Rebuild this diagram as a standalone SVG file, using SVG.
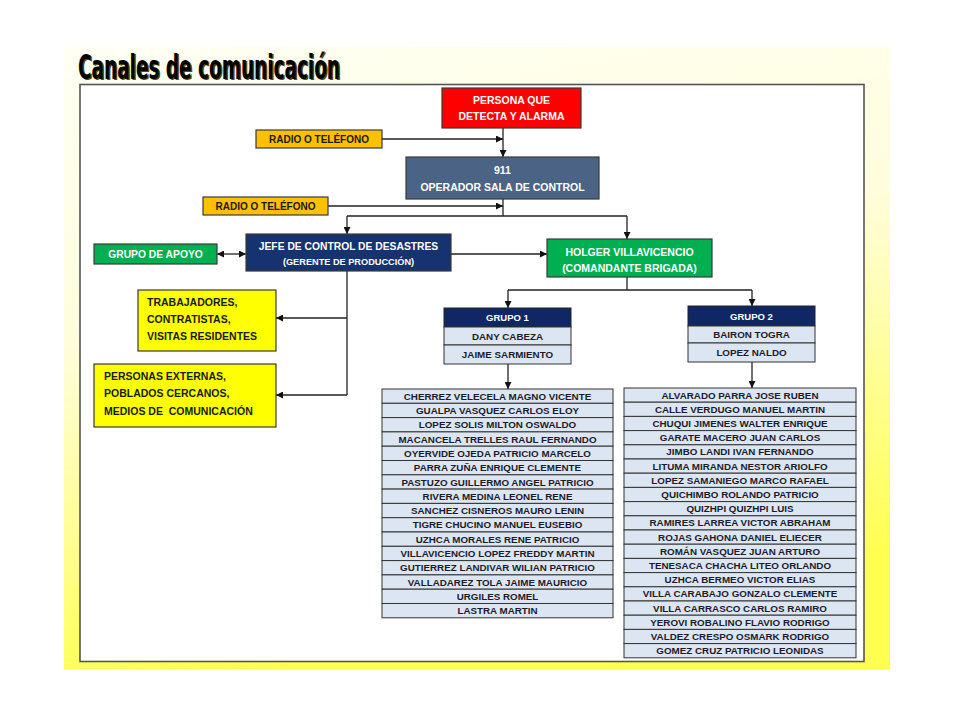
<svg xmlns="http://www.w3.org/2000/svg" width="960" height="720" viewBox="0 0 960 720">
<defs>
<linearGradient id="bg" x1="0" y1="0" x2="0.25" y2="1">
<stop offset="0" stop-color="#fffff4"/>
<stop offset="0.45" stop-color="#fffddc"/>
<stop offset="1" stop-color="#ffff50"/>
</linearGradient>
<marker id="ah" viewBox="0 0 8 8" refX="8" refY="4" markerWidth="7" markerHeight="7" markerUnits="userSpaceOnUse" orient="auto-start-reverse">
<path d="M0,0 L8,4 L0,8 Z" fill="#111"/>
</marker>
<style>
.t{font-family:"Liberation Sans",Arial,sans-serif;font-weight:bold;text-anchor:middle;dominant-baseline:central}
.w{fill:#ffffff}
.d{fill:#1a1a1a}
.box{stroke:#3a3a3a;stroke-width:1.2}
.row{fill:#dce6f2;stroke:#333;stroke-width:1}
.rt{font-family:"Liberation Sans",Arial,sans-serif;font-weight:bold;text-anchor:middle;dominant-baseline:central;font-size:9.8px;fill:#1c1c2c}
.c{fill:none;stroke:#222;stroke-width:1.3}
.l{font-family:"Liberation Sans",Arial,sans-serif;font-weight:bold;dominant-baseline:central;font-size:10.5px;fill:#1a1a1a}
.ttl{font-family:"DejaVu Sans Condensed","DejaVu Sans",sans-serif;font-weight:bold;font-size:34px}
</style>
</defs>
<rect x="0" y="0" width="960" height="720" fill="#ffffff"/>
<rect x="64" y="47" width="826" height="622" fill="url(#bg)"/>
<text class="ttl" x="79.5" y="80" textLength="262" lengthAdjust="spacingAndGlyphs" fill="#5a4a10">Canales de comunicación</text>
<text class="ttl" x="78" y="78.5" textLength="262" lengthAdjust="spacingAndGlyphs" fill="#000">Canales de comunicación</text>
<rect x="80" y="84.5" width="784" height="577" fill="#ffffff" stroke="#555" stroke-width="1.6"/>

<g id="connectors">
<path class="c" d="M503,128 V157" marker-end="url(#ah)"/>
<path class="c" d="M382,139 H503" marker-end="url(#ah)"/>
<path class="c" d="M503,199 V216"/>
<path class="c" d="M328,206 H503" marker-end="url(#ah)"/>
<path class="c" d="M347,216 H627"/>
<path class="c" d="M347,216 V234" marker-end="url(#ah)"/>
<path class="c" d="M627,216 V239" marker-end="url(#ah)"/>
<path class="c" d="M217,254 H246" marker-start="url(#ah)" marker-end="url(#ah)"/>
<path class="c" d="M451,254 H547" marker-end="url(#ah)"/>
<path class="c" d="M347,271 V395"/>
<path class="c" d="M347,318 H276" marker-end="url(#ah)"/>
<path class="c" d="M347,395 H276" marker-end="url(#ah)"/>
<path class="c" d="M627,277 V290"/>
<path class="c" d="M508,290 H752"/>
<path class="c" d="M508,290 V308" marker-end="url(#ah)"/>
<path class="c" d="M752,290 V306" marker-end="url(#ah)"/>
<path class="c" d="M508,364 V389" marker-end="url(#ah)"/>
<path class="c" d="M752,362 V388" marker-end="url(#ah)"/>
</g>

<g id="persona">
<rect class="box" x="442" y="88" width="139" height="40" fill="#ff0000"/>
<text class="t w" x="511.5" y="100" font-size="10.5">PERSONA QUE</text>
<text class="t w" x="511.5" y="116" font-size="10.5">DETECTA Y ALARMA</text>
</g>
<g id="radio1">
<rect class="box" x="256" y="130" width="126" height="18" fill="#ffc000"/>
<text class="t d" x="319" y="139.5" font-size="10">RADIO O TELÉFONO</text>
</g>
<g id="operador">
<rect class="box" x="406" y="157" width="193" height="42" fill="#4b6384"/>
<text class="t w" x="502.5" y="169.5" font-size="10.5">911</text>
<text class="t w" x="502.5" y="186.5" font-size="10.5">OPERADOR SALA DE CONTROL</text>
</g>
<g id="radio2">
<rect class="box" x="203" y="197" width="125" height="18" fill="#ffc000"/>
<text class="t d" x="265.5" y="206.5" font-size="10">RADIO O TELÉFONO</text>
</g>
<g id="jefe">
<rect class="box" x="246" y="234" width="205" height="37" fill="#17336f"/>
<text class="t w" x="348.5" y="246" font-size="10.3">JEFE DE CONTROL DE DESASTRES</text>
<text class="t w" x="348.5" y="261.5" font-size="9.2">(GERENTE DE PRODUCCIÓN)</text>
</g>
<g id="apoyo">
<rect class="box" x="94" y="244" width="123" height="20" fill="#00b050"/>
<text class="t w" x="155.5" y="254.5" font-size="10.3">GRUPO DE APOYO</text>
</g>
<g id="holger">
<rect class="box" x="547" y="239" width="165" height="38" fill="#00b050"/>
<text class="t w" x="629.5" y="251.5" font-size="10.5">HOLGER VILLAVICENCIO</text>
<text class="t w" x="629.5" y="268" font-size="10.5">(COMANDANTE BRIGADA)</text>
</g>
<g id="trabajadores">
<rect class="box" x="138" y="290" width="138" height="61" fill="#ffff00"/>
<text class="l" x="147" y="302">TRABAJADORES,</text>
<text class="l" x="147" y="319">CONTRATISTAS,</text>
<text class="l" x="147" y="335.5">VISITAS RESIDENTES</text>
</g>
<g id="externas">
<rect class="box" x="94" y="364" width="182" height="63" fill="#ffff00"/>
<text class="l" x="104" y="375.5">PERSONAS EXTERNAS,</text>
<text class="l" x="104" y="393">POBLADOS CERCANOS,</text>
<text class="l" x="104" y="410.5" xml:space="preserve">MEDIOS DE  COMUNICACIÓN</text>
</g>
<g id="grupo1">
<rect x="444" y="308" width="127" height="19" fill="#0f2865" stroke="#222" stroke-width="1"/>
<text class="t w" x="507.5" y="317.5" font-size="9.5">GRUPO 1</text>
<rect class="row" x="444" y="327" width="127" height="18"/>
<text class="rt" x="507.5" y="336">DANY CABEZA</text>
<rect class="row" x="444" y="345" width="127" height="19"/>
<text class="rt" x="507.5" y="354.5">JAIME SARMIENTO</text>
</g>
<g id="grupo2">
<rect x="688" y="306" width="127" height="20" fill="#0f2865" stroke="#222" stroke-width="1"/>
<text class="t w" x="751.5" y="316" font-size="9.5">GRUPO 2</text>
<rect class="row" x="688" y="326" width="127" height="17"/>
<text class="rt" x="751.5" y="334.5">BAIRON TOGRA</text>
<rect class="row" x="688" y="343" width="127" height="19"/>
<text class="rt" x="751.5" y="352.5">LOPEZ NALDO</text>
</g>
<g id="lista1">
<rect class="row" x="382" y="389" width="231" height="14.3"/><text class="rt" x="497.5" y="396.2">CHERREZ VELECELA MAGNO VICENTE</text>
<rect class="row" x="382" y="403.3" width="231" height="14.3"/><text class="rt" x="497.5" y="410.5">GUALPA VASQUEZ CARLOS ELOY</text>
<rect class="row" x="382" y="417.6" width="231" height="14.3"/><text class="rt" x="497.5" y="424.8">LOPEZ SOLIS MILTON OSWALDO</text>
<rect class="row" x="382" y="431.9" width="231" height="14.3"/><text class="rt" x="497.5" y="439.1">MACANCELA TRELLES RAUL FERNANDO</text>
<rect class="row" x="382" y="446.2" width="231" height="14.3"/><text class="rt" x="497.5" y="453.4">OYERVIDE OJEDA PATRICIO MARCELO</text>
<rect class="row" x="382" y="460.5" width="231" height="14.3"/><text class="rt" x="497.5" y="467.7">PARRA ZUÑA ENRIQUE CLEMENTE</text>
<rect class="row" x="382" y="474.8" width="231" height="14.3"/><text class="rt" x="497.5" y="482">PASTUZO GUILLERMO ANGEL PATRICIO</text>
<rect class="row" x="382" y="489.1" width="231" height="14.3"/><text class="rt" x="497.5" y="496.3">RIVERA MEDINA LEONEL RENE</text>
<rect class="row" x="382" y="503.4" width="231" height="14.3"/><text class="rt" x="497.5" y="510.6">SANCHEZ CISNEROS MAURO LENIN</text>
<rect class="row" x="382" y="517.7" width="231" height="14.3"/><text class="rt" x="497.5" y="524.9">TIGRE CHUCINO MANUEL EUSEBIO</text>
<rect class="row" x="382" y="532" width="231" height="14.3"/><text class="rt" x="497.5" y="539.2">UZHCA MORALES RENE PATRICIO</text>
<rect class="row" x="382" y="546.3" width="231" height="14.3"/><text class="rt" x="497.5" y="553.5">VILLAVICENCIO LOPEZ FREDDY MARTIN</text>
<rect class="row" x="382" y="560.6" width="231" height="14.3"/><text class="rt" x="497.5" y="567.8">GUTIERREZ LANDIVAR WILIAN PATRICIO</text>
<rect class="row" x="382" y="574.9" width="231" height="14.3"/><text class="rt" x="497.5" y="582.1">VALLADAREZ TOLA JAIME MAURICIO</text>
<rect class="row" x="382" y="589.2" width="231" height="14.3"/><text class="rt" x="497.5" y="596.4">URGILES ROMEL</text>
<rect class="row" x="382" y="603.5" width="231" height="14.3"/><text class="rt" x="497.5" y="610.7">LASTRA MARTIN</text>
</g>
<g id="lista2">
<rect class="row" x="624" y="388" width="232" height="14.2"/><text class="rt" x="740" y="395.1">ALVARADO PARRA JOSE RUBEN</text>
<rect class="row" x="624" y="402.2" width="232" height="14.2"/><text class="rt" x="740" y="409.3">CALLE VERDUGO MANUEL MARTIN</text>
<rect class="row" x="624" y="416.4" width="232" height="14.2"/><text class="rt" x="740" y="423.5">CHUQUI JIMENES WALTER ENRIQUE</text>
<rect class="row" x="624" y="430.6" width="232" height="14.2"/><text class="rt" x="740" y="437.7">GARATE MACERO JUAN CARLOS</text>
<rect class="row" x="624" y="444.8" width="232" height="14.2"/><text class="rt" x="740" y="451.9">JIMBO LANDI IVAN FERNANDO</text>
<rect class="row" x="624" y="459" width="232" height="14.2"/><text class="rt" x="740" y="466.1">LITUMA MIRANDA NESTOR ARIOLFO</text>
<rect class="row" x="624" y="473.2" width="232" height="14.2"/><text class="rt" x="740" y="480.3">LOPEZ SAMANIEGO MARCO RAFAEL</text>
<rect class="row" x="624" y="487.4" width="232" height="14.2"/><text class="rt" x="740" y="494.5">QUICHIMBO ROLANDO PATRICIO</text>
<rect class="row" x="624" y="501.6" width="232" height="14.2"/><text class="rt" x="740" y="508.7">QUIZHPI QUIZHPI LUIS</text>
<rect class="row" x="624" y="515.8" width="232" height="14.2"/><text class="rt" x="740" y="522.9">RAMIRES LARREA VICTOR ABRAHAM</text>
<rect class="row" x="624" y="530" width="232" height="14.2"/><text class="rt" x="740" y="537.1">ROJAS GAHONA DANIEL ELIECER</text>
<rect class="row" x="624" y="544.2" width="232" height="14.2"/><text class="rt" x="740" y="551.3">ROMÁN VASQUEZ JUAN ARTURO</text>
<rect class="row" x="624" y="558.4" width="232" height="14.2"/><text class="rt" x="740" y="565.5">TENESACA CHACHA LITEO ORLANDO</text>
<rect class="row" x="624" y="572.6" width="232" height="14.2"/><text class="rt" x="740" y="579.7">UZHCA BERMEO VICTOR ELIAS</text>
<rect class="row" x="624" y="586.8" width="232" height="14.2"/><text class="rt" x="740" y="593.9">VILLA CARABAJO GONZALO CLEMENTE</text>
<rect class="row" x="624" y="601" width="232" height="14.2"/><text class="rt" x="740" y="608.1">VILLA CARRASCO CARLOS RAMIRO</text>
<rect class="row" x="624" y="615.2" width="232" height="14.2"/><text class="rt" x="740" y="622.3">YEROVI ROBALINO FLAVIO RODRIGO</text>
<rect class="row" x="624" y="629.4" width="232" height="14.2"/><text class="rt" x="740" y="636.5">VALDEZ CRESPO OSMARK RODRIGO</text>
<rect class="row" x="624" y="643.6" width="232" height="14.2"/><text class="rt" x="740" y="650.7">GOMEZ CRUZ PATRICIO LEONIDAS</text>
</g>
</svg>
